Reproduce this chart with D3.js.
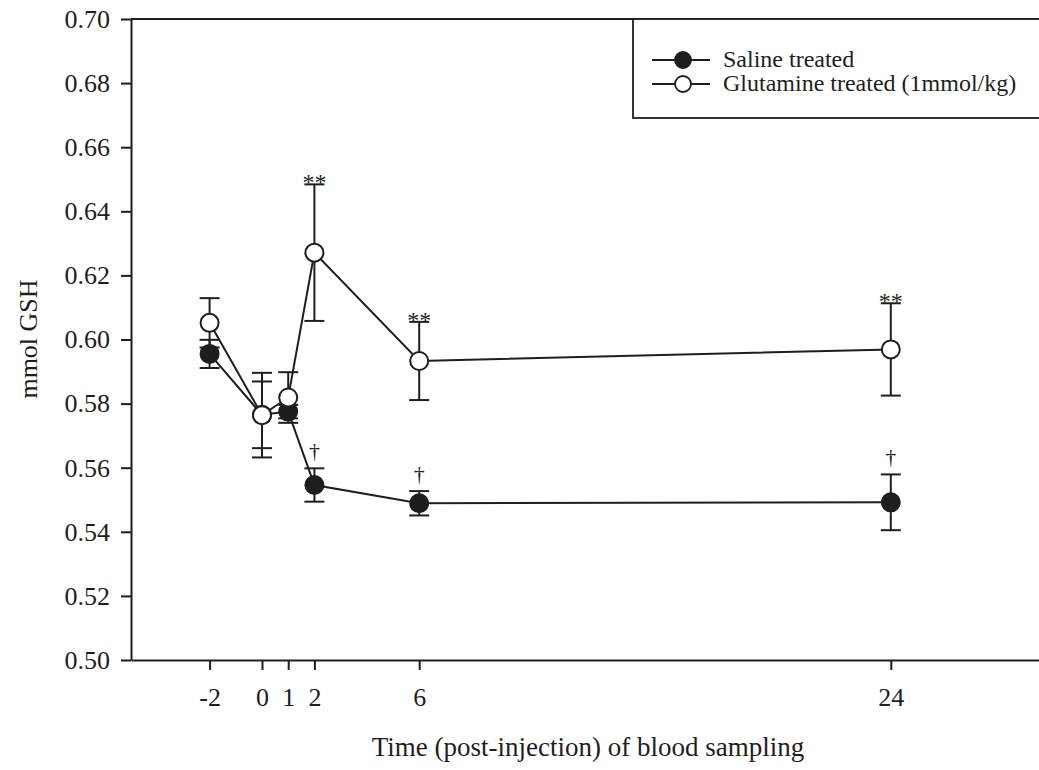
<!DOCTYPE html>
<html>
<head>
<meta charset="utf-8">
<script src="https://cdn.jsdelivr.net/npm/d3@7"></script>
<style>
  html, body { margin: 0; padding: 0; background: #fff; }
  svg { display: block; font-family: "Liberation Serif", "Times New Roman", serif; }
</style>
</head>
<body>
<svg id="chart" width="1039" height="770"></svg>
<script>
// Sampling times (hours relative to injection)
const times = [-2, 0, 1, 2, 6, 24];
const xTickValues = [-2, 0, 1, 2, 6, 24];
const yTickValues = [0.50, 0.52, 0.54, 0.56, 0.58, 0.60, 0.62, 0.64, 0.66, 0.68, 0.70];

// Whole-blood GSH (mmol), mean and SEM
const salineMean = [0.5955, 0.5765, 0.5775, 0.5546, 0.5489, 0.5492];
const salineSem  = [0.0044, 0.0104, 0.0021, 0.0052, 0.0038, 0.0087];
const glutMean   = [0.6052, 0.5764, 0.5819, 0.6271, 0.5933, 0.5969];
const glutSem    = [0.0077, 0.0132, 0.0079, 0.0213, 0.0122, 0.0144];

// Significance marks placed over the upper error caps
const salineMarks = ["", "", "", "\u2020", "\u2020", "\u2020"];
const glutMarks   = ["", "", "", "**", "**", "**"];

const seriesNames = ["Saline treated", "Glutamine treated (1mmol/kg)"];

const ink = "#1e1e1e";
const serif = "'Liberation Serif', 'Times New Roman', serif";
const svg = d3.select("#chart");

const x = d3.scaleLinear().domain([-5, 30]).range([131, 1048]);
const y = d3.scaleLinear().domain([0.50, 0.70]).range([660, 19]);

// Axes (plain hyphen for negative ticks)
const xAxis = d3.axisBottom(x).tickValues(xTickValues).tickFormat(d => String(d))
  .tickSize(10).tickSizeOuter(0).tickPadding(18);
const yAxis = d3.axisLeft(y).tickValues(yTickValues).tickFormat(d3.format(".2f"))
  .tickSize(10).tickSizeOuter(0).tickPadding(11);

const gx = svg.append("g").attr("transform", "translate(0,660)").call(xAxis);
const gy = svg.append("g").attr("transform", "translate(131,0)").call(yAxis);
[gx, gy].forEach(g => {
  g.attr("font-family", serif);
  g.select(".domain").attr("stroke", ink).attr("stroke-width", 2);
  g.selectAll(".tick line").attr("stroke", ink).attr("stroke-width", 2);
  g.selectAll(".tick text").attr("fill", ink).style("font-size", "26px")
    .style("font-family", serif);
});

// Top frame line
svg.append("line")
  .attr("x1", x(-5)).attr("x2", x(30))
  .attr("y1", y(0.70)).attr("y2", y(0.70))
  .attr("stroke", ink).attr("stroke-width", 2);

// Axis titles
svg.append("text")
  .attr("x", 588).attr("y", 756)
  .attr("text-anchor", "middle")
  .attr("fill", ink)
  .style("font-size", "27px")
  .text("Time (post-injection) of blood sampling");

svg.append("text")
  .attr("transform", "translate(37,339) rotate(-90)")
  .attr("text-anchor", "middle")
  .attr("fill", ink)
  .style("font-size", "26px")
  .text("mmol GSH");

const capHalf = 10;
const r = 9;

function drawSeries(means, sems, marks, filled) {
  const data = times.map((t, i) => ({ t, m: means[i], s: sems[i], mark: marks[i] }));
  const g = svg.append("g");

  g.append("path")
    .datum(data)
    .attr("fill", "none")
    .attr("stroke", ink)
    .attr("stroke-width", 2)
    .attr("d", d3.line().x(d => x(d.t)).y(d => y(d.m)));

  const eb = g.selectAll(".eb").data(data).enter().append("g");
  eb.append("line")
    .attr("x1", d => x(d.t)).attr("x2", d => x(d.t))
    .attr("y1", d => y(d.m - d.s)).attr("y2", d => y(d.m + d.s))
    .attr("stroke", ink).attr("stroke-width", 2);
  eb.append("line")
    .attr("x1", d => x(d.t) - capHalf).attr("x2", d => x(d.t) + capHalf)
    .attr("y1", d => y(d.m + d.s)).attr("y2", d => y(d.m + d.s))
    .attr("stroke", ink).attr("stroke-width", 2);
  eb.append("line")
    .attr("x1", d => x(d.t) - capHalf).attr("x2", d => x(d.t) + capHalf)
    .attr("y1", d => y(d.m - d.s)).attr("y2", d => y(d.m - d.s))
    .attr("stroke", ink).attr("stroke-width", 2);

  g.selectAll(".pt").data(data).enter().append("circle")
    .attr("cx", d => x(d.t)).attr("cy", d => y(d.m)).attr("r", r)
    .attr("fill", filled ? ink : "#fff")
    .attr("stroke", ink).attr("stroke-width", 2);

  g.selectAll(".mk").data(data.filter(d => d.mark)).enter().append("text")
    .attr("x", d => x(d.t))
    .attr("y", d => y(d.m + d.s) + (d.mark === "**" ? 6 : -10))
    .attr("text-anchor", "middle")
    .attr("fill", ink)
    .style("font-size", d => d.mark === "**" ? "24px" : "22px")
    .text(d => d.mark);
}

drawSeries(salineMean, salineSem, salineMarks, true);
drawSeries(glutMean, glutSem, glutMarks, false);

// Legend
const leg = svg.append("g");
leg.append("rect")
  .attr("x", 633).attr("y", 19).attr("width", 420).attr("height", 99)
  .attr("fill", "#fff").attr("stroke", ink).attr("stroke-width", 1.8);

const legRows = [
  { name: seriesNames[0], filled: true, yy: 60 },
  { name: seriesNames[1], filled: false, yy: 84 }
];
legRows.forEach(rw => {
  leg.append("line")
    .attr("x1", 652).attr("x2", 710).attr("y1", rw.yy).attr("y2", rw.yy)
    .attr("stroke", ink).attr("stroke-width", 1.8);
  leg.append("circle")
    .attr("cx", 683).attr("cy", rw.yy).attr("r", 8)
    .attr("fill", rw.filled ? ink : "#fff")
    .attr("stroke", ink).attr("stroke-width", 1.8);
  leg.append("text")
    .attr("x", 723).attr("y", rw.yy + 7)
    .attr("fill", ink)
    .style("font-size", "24px")
    .text(rw.name);
});
</script>
</body>
</html>
